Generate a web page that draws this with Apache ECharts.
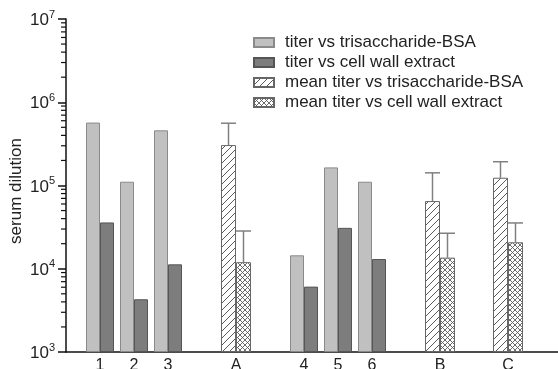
<!DOCTYPE html>
<html><head><meta charset="utf-8">
<script src="https://cdn.jsdelivr.net/npm/echarts@6/dist/echarts.min.js"></script>
<style>html,body{margin:0;padding:0;background:#fff}#c{width:558px;height:369px}</style>
</head><body><div id="c"></div>
<script>
// ---- data ----
const categories   = ['1', '2', '3', '', 'A', '', '4', '5', '6', '', 'B', '', 'C'];
const titerTri     = [5.7e5, 1.11e5, 4.6e5, null, null, null, 1.45e4, 1.65e5, 1.11e5, null, null, null, null];
const titerCell    = [3.6e4, 4.3e3, 1.13e4, null, null, null, 6.1e3, 3.1e4, 1.31e4, null, null, null, null];
const meanTri      = [null, null, null, null, 3.06e5, null, null, null, null, null, 6.5e4, null, 1.24e5];
const meanTriUpper = [null, null, null, null, 5.6e5, null, null, null, null, null, 1.42e5, null, 1.93e5];
const meanCell     = [null, null, null, null, 1.2e4, null, null, null, null, null, 1.36e4, null, 2.08e4];
const meanCellUpper= [null, null, null, null, 2.84e4, null, null, null, null, null, 2.67e4, null, 3.55e4];
const yTickValues  = [1e3, 1e4, 1e5, 1e6, 1e7];
const minorMultipliers = [2, 3, 4, 5, 6, 7, 8, 9];
const seriesNames = ['titer vs trisaccharide-BSA', 'titer vs cell wall extract',
                     'mean titer vs trisaccharide-BSA', 'mean titer vs cell wall extract'];

// ---- helpers ----
function toPairs(arr) {
  const out = [];
  arr.forEach((v, i) => { if (v != null) out.push([i + 1, v]); });
  return out;
}
function errPairs(mean, upper, side) {
  const out = [];
  mean.forEach((v, i) => { if (v != null) out.push([i + 1, v, upper[i], side]); });
  return out;
}
const minorTicks = [];
yTickValues.slice(0, -1).forEach(d => minorMultipliers.forEach(m => minorTicks.push([0, d * m])));

function hatchPattern() {
  const s = 7, c = document.createElement('canvas'); c.width = s; c.height = s;
  const g = c.getContext('2d');
  g.fillStyle = '#ffffff'; g.fillRect(0, 0, s, s);
  g.strokeStyle = '#5a5a5a'; g.lineWidth = 1;
  g.beginPath();
  g.moveTo(0, s); g.lineTo(s, 0);
  g.moveTo(-2, 2); g.lineTo(2, -2);
  g.moveTo(s - 2, s + 2); g.lineTo(s + 2, s - 2);
  g.stroke();
  return c;
}
function crossPattern() {
  const s = 5, c = document.createElement('canvas'); c.width = s; c.height = s;
  const g = c.getContext('2d');
  g.fillStyle = '#ffffff'; g.fillRect(0, 0, s, s);
  g.strokeStyle = '#5a5a5a'; g.lineWidth = 0.9;
  g.beginPath();
  g.moveTo(0, s); g.lineTo(s, 0);
  g.moveTo(0, 0); g.lineTo(s, s);
  g.stroke();
  return c;
}

const FONT = 'Liberation Sans, Arial, sans-serif';
const chart = echarts.init(document.getElementById('c'), null, { renderer: 'canvas' });
const xAxisBase = {
  type: 'value', min: 0, max: 14.5, interval: 1,
  splitLine: { show: false }, axisTick: { show: false }
};

chart.setOption({
  animation: false,
  backgroundColor: '#ffffff',
  grid: { left: 66, top: 19, width: 493, height: 333, containLabel: false, outerBoundsMode: 'none' },
  legend: {
    orient: 'vertical', left: 253, top: 34, padding: 0,
    itemWidth: 20, itemHeight: 9, itemGap: 3, icon: 'rect',
    data: seriesNames,
    textStyle: { fontSize: 17, color: '#222', fontFamily: FONT, padding: [0, 0, 0, 6] }
  },
  xAxis: [
    Object.assign({}, xAxisBase, {
      axisLine: { lineStyle: { color: '#111', width: 1.5 } },
      axisLabel: {
        fontSize: 16, color: '#222', fontFamily: FONT, margin: 6,
        showMaxLabel: false, showMinLabel: false,
        formatter: v => (Number.isInteger(v) && categories[v - 1]) ? categories[v - 1] : ''
      }
    }),
    Object.assign({}, xAxisBase, { show: false })
  ],
  yAxis: {
    type: 'log', logBase: 10, min: 1e3, max: 1e7, startValue: 1e3,
    name: 'serum dilution', nameLocation: 'middle', nameGap: 41, nameMoveOverlap: false,
    nameTextStyle: { fontSize: 17, color: '#222', fontFamily: FONT, padding: [0, 11, 0, 0] },
    axisLine: { show: true, lineStyle: { color: '#111', width: 1.5 } },
    axisTick: { show: true, length: 8, lineStyle: { color: '#111', width: 1.5 } },
    splitLine: { show: false },
    axisLabel: {
      margin: 11, color: '#222', fontFamily: FONT,
      formatter: v => '{b|10}{s|' + Math.round(Math.log10(v)) + '}',
      rich: {
        b: { fontSize: 17, color: '#222', fontFamily: FONT, lineHeight: 20, verticalAlign: 'bottom' },
        s: { fontSize: 11, color: '#222', fontFamily: FONT, lineHeight: 11, verticalAlign: 'top' }
      }
    }
  },
  series: [
    { name: seriesNames[0], type: 'bar', xAxisIndex: 0, data: toPairs(titerTri),
      barWidth: 14, barGap: '0%',
      itemStyle: { color: '#c0c0c0', borderColor: '#8a8a8a', borderWidth: 1 } },
    { name: seriesNames[1], type: 'bar', xAxisIndex: 0, data: toPairs(titerCell),
      barWidth: 14, barGap: '0%',
      itemStyle: { color: '#7d7d7d', borderColor: '#555', borderWidth: 1 } },
    { name: seriesNames[2], type: 'bar', xAxisIndex: 1, data: toPairs(meanTri),
      barWidth: 15, barGap: '0%',
      itemStyle: { color: { image: hatchPattern(), repeat: 'repeat' }, borderColor: '#666', borderWidth: 1 } },
    { name: seriesNames[3], type: 'bar', xAxisIndex: 1, data: toPairs(meanCell),
      barWidth: 15, barGap: '0%',
      itemStyle: { color: { image: crossPattern(), repeat: 'repeat' }, borderColor: '#666', borderWidth: 1 } },
    { name: 'error', type: 'custom', xAxisIndex: 1, z: 1,
      data: errPairs(meanTri, meanTriUpper, -1).concat(errPairs(meanCell, meanCellUpper, 1)),
      renderItem: function (params, api) {
        const x = api.value(0), m = api.value(1), u = api.value(2), side = api.value(3);
        const p0 = api.coord([x, m]), p1 = api.coord([x, u]);
        const cx = p0[0] + side * 7.5;
        const st = { stroke: '#808080', lineWidth: 1.5 };
        return { type: 'group', children: [
          { type: 'line', shape: { x1: cx, y1: p0[1], x2: cx, y2: p1[1] }, style: st },
          { type: 'line', shape: { x1: cx - 7.5, y1: p1[1], x2: cx + 7.5, y2: p1[1] }, style: st }
        ] };
      }
    },
    { name: 'minorTicks', type: 'custom', xAxisIndex: 0, silent: true,
      data: minorTicks,
      renderItem: function (params, api) {
        const y = api.coord([0, api.value(1)])[1];
        const x0 = params.coordSys.x;
        return { type: 'line', shape: { x1: x0 - 5, y1: y, x2: x0, y2: y },
          style: { stroke: '#111', lineWidth: 1.2 } };
      }
    }
  ]
});
</script></body></html>
